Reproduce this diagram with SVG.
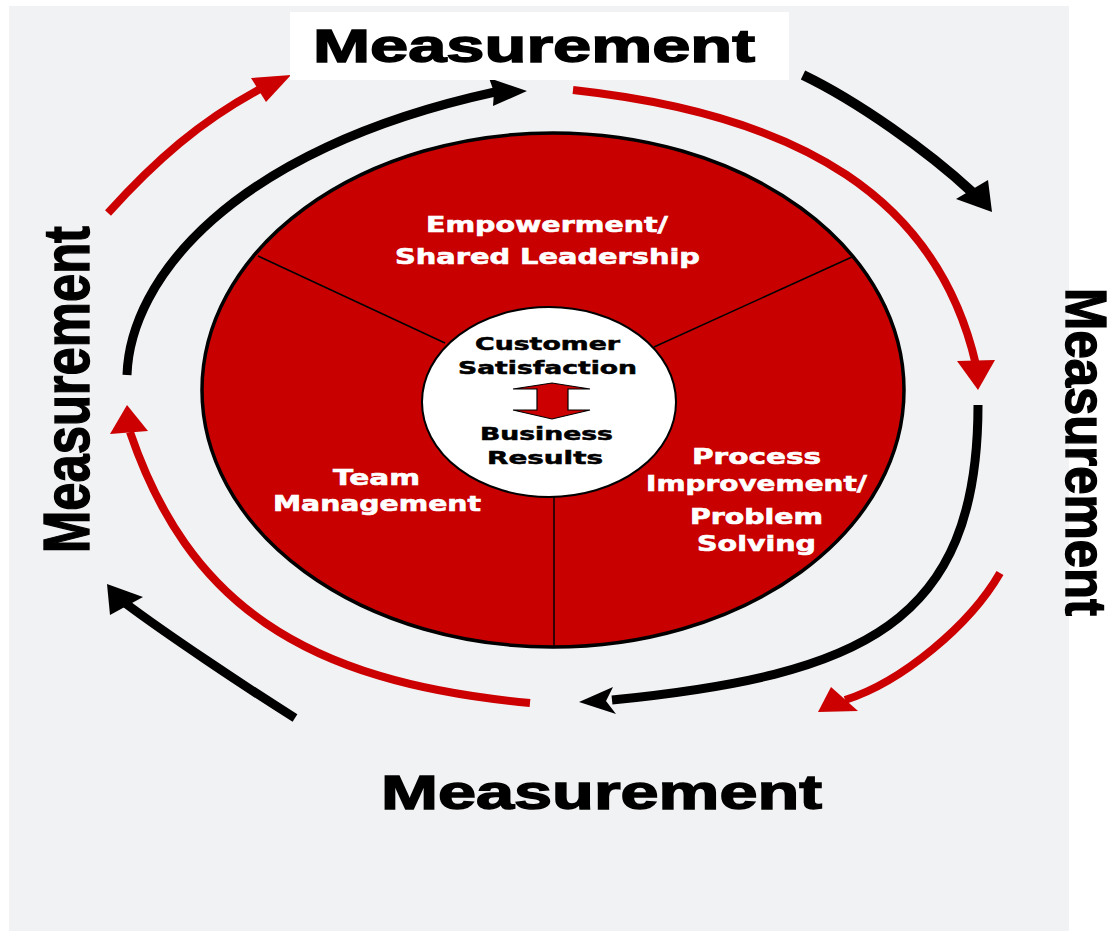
<svg xmlns="http://www.w3.org/2000/svg" width="1119" height="931" viewBox="0 0 1119 931">
  <style>
    .bg { fill: #f1f2f4; }
    .ring { fill: #c80000; stroke: #000; stroke-width: 3.5; }
    .hub { fill: #fff; stroke: #000; stroke-width: 2; }
    .divider { stroke: #000; stroke-width: 1.5; fill: none; }
    .seg { font-family: "DejaVu Sans", "Liberation Sans", sans-serif; font-weight: bold; font-size: 21px; fill: #fff; stroke: #fff; stroke-width: 0.6; }
    .hubtxt { font-family: "DejaVu Sans", "Liberation Sans", sans-serif; font-weight: bold; font-size: 17px; fill: #000; stroke: #000; stroke-width: 0.5; }
    .meas { font-family: "Liberation Sans", Arial, sans-serif; font-weight: bold; fill: #000; stroke: #000; stroke-width: 1.4; }
    .arc-red { fill: none; stroke: #cc0000; stroke-width: 8; }
    .arc-black { fill: none; stroke: #000; stroke-width: 9; }
    .head-red { fill: #cc0000; }
    .head-black { fill: #000; }
  </style>

  <rect class="bg" x="9" y="6" width="1060" height="925"/>

  <!-- cycle arrows -->
  <g id="connectors">
    <!-- top left -->
    <path class="arc-red" d="M108,213 C155,161 200,121 262,88"/>
    <polygon class="head-red" points="291,75 251,78 266,102"/>
    <path class="arc-black" d="M127,375 C130,280 230,150 495,92"/>
    <polygon class="head-black" points="527,91 489,78 494,92 493,106"/>
    <!-- top right -->
    <path class="arc-red" d="M573,90 C802,115 938,199 976,365"/>
    <polygon class="head-red" points="978,390 957,361 995,360"/>
    <path class="arc-black" d="M803,75 C857,101 928,151 972,192" style="stroke-width:10"/>
    <polygon class="head-black" points="992,212 956,199 988,180"/>
    <!-- bottom right -->
    <path class="arc-black" d="M978,405 C978,625 861,675 612,700"/>
    <polygon class="head-black" points="579,702 613,687 606,701 616,714"/>
    <path class="arc-red" d="M1000,573 C970,625 902,682 845,700"/>
    <polygon class="head-red" points="818,712 831,687 858,711"/>
    <!-- bottom left -->
    <path class="arc-red" d="M530,703 C301,682 188,602 130,432"/>
    <polygon class="head-red" points="127,405 110,434 148,431"/>
    <path class="arc-black" d="M295,718 C244,686 165,633 125,603"/>
    <polygon class="head-black" points="107,584 110,615 143,597"/>
  </g>

  <!-- central wheel -->
  <g id="wheel">
    <ellipse class="ring" cx="553" cy="390" rx="351" ry="257"/>
    <line class="divider" x1="258" y1="256" x2="445" y2="343"/>
    <line class="divider" x1="852" y1="257" x2="654" y2="347"/>
    <line class="divider" x1="554" y1="496" x2="554" y2="646"/>
  </g>

  <g id="empowerment">
    <text class="seg" x="426" y="232" textLength="242" lengthAdjust="spacingAndGlyphs">Empowerment/</text>
    <text class="seg" x="395" y="264" textLength="305" lengthAdjust="spacingAndGlyphs">Shared Leadership</text>
  </g>

  <g id="team-management">
    <text class="seg" x="333" y="485" textLength="87" lengthAdjust="spacingAndGlyphs">Team</text>
    <text class="seg" x="273" y="511" textLength="208" lengthAdjust="spacingAndGlyphs">Management</text>
  </g>

  <g id="process-improvement">
    <text class="seg" x="692" y="464" textLength="129" lengthAdjust="spacingAndGlyphs">Process</text>
    <text class="seg" x="646" y="491" textLength="221" lengthAdjust="spacingAndGlyphs">Improvement/</text>
    <text class="seg" x="690" y="524" textLength="133" lengthAdjust="spacingAndGlyphs">Problem</text>
    <text class="seg" x="697" y="551" textLength="119" lengthAdjust="spacingAndGlyphs">Solving</text>
  </g>

  <g id="hub">
    <ellipse class="hub" cx="549" cy="402" rx="127" ry="95"/>
    <text class="hubtxt" x="475" y="350" textLength="145" lengthAdjust="spacingAndGlyphs">Customer</text>
    <text class="hubtxt" x="458" y="374" textLength="179" lengthAdjust="spacingAndGlyphs">Satisfaction</text>
    <polygon points="513,389 552,383 590,389 568,389 568,410 590,410 552,419 513,410 537,410 537,389" fill="#cc0000" stroke="#000" stroke-width="1.2" stroke-linejoin="miter"/>
    <text class="hubtxt" x="480" y="440" textLength="133" lengthAdjust="spacingAndGlyphs">Business</text>
    <text class="hubtxt" x="487" y="464" textLength="116" lengthAdjust="spacingAndGlyphs">Results</text>
  </g>

  <!-- measurement labels -->
  <g id="measurement-top">
    <rect x="290" y="12" width="499" height="68" fill="#fff"/>
    <text class="meas" x="313" y="62" font-size="46" textLength="442" lengthAdjust="spacingAndGlyphs">Measurement</text>
  </g>
  <g id="measurement-bottom">
    <text class="meas" x="381" y="809" font-size="48" textLength="441" lengthAdjust="spacingAndGlyphs">Measurement</text>
  </g>
  <g id="measurement-left">
    <text class="meas" transform="translate(89,553) rotate(-90)" x="0" y="0" font-size="64" textLength="327" lengthAdjust="spacingAndGlyphs">Measurement</text>
  </g>
  <g id="measurement-right">
    <text class="meas" transform="translate(1066,288) rotate(90)" x="0" y="0" font-size="57" textLength="328" lengthAdjust="spacingAndGlyphs">Measurement</text>
  </g>
</svg>
